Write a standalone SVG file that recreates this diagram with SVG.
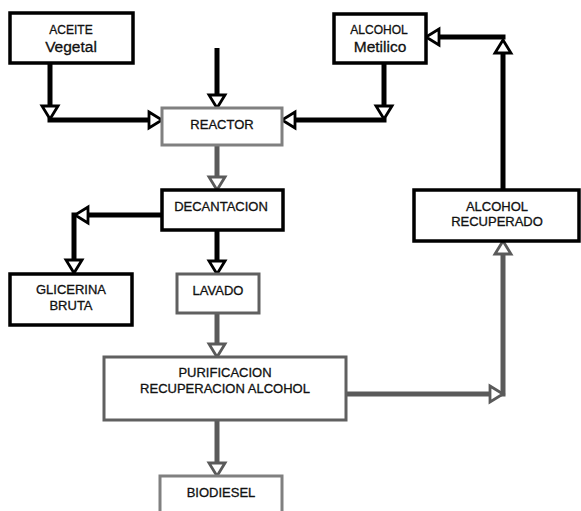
<svg xmlns="http://www.w3.org/2000/svg" width="581" height="511" viewBox="0 0 581 511">
<style>
text{font-family:"Liberation Sans",Arial,sans-serif;font-size:13px;fill:#111;stroke:#111;stroke-width:0.3;text-anchor:middle}
.sm{font-size:12px}
.big{font-size:15.5px}
.bk{fill:#fff;stroke:#000;stroke-width:3.5}
.gr{fill:#fff;stroke:#808080;stroke-width:3}
.dg{fill:#fff;stroke:#606060;stroke-width:3}
.cb{fill:none;stroke:#000;stroke-width:5}
.cg{fill:none;stroke:#5a5a5a;stroke-width:5}
</style>
<defs>
<marker id="ab" markerUnits="userSpaceOnUse" markerWidth="20" markerHeight="20" refX="1" refY="10" orient="auto" overflow="visible">
<path d="M1,2 L14,10 L1,18 Z" fill="#fff" stroke="#000" stroke-width="2.8" stroke-linejoin="miter"/>
</marker>
<marker id="ag" markerUnits="userSpaceOnUse" markerWidth="20" markerHeight="20" refX="1" refY="10" orient="auto" overflow="visible">
<path d="M1,2 L14,10 L1,18 Z" fill="#fff" stroke="#5a5a5a" stroke-width="2.8" stroke-linejoin="miter"/>
</marker>
</defs>
<rect width="581" height="511" fill="#fff"/>
<g id="connectors">
<line class="cb" x1="217" y1="48" x2="217" y2="95" marker-end="url(#ab)"/>
<line class="cb" x1="50" y1="63" x2="50" y2="106" marker-end="url(#ab)"/>
<line class="cb" x1="47.5" y1="120" x2="149" y2="120" marker-end="url(#ab)"/>
<line class="cb" x1="384" y1="63" x2="384" y2="106" marker-end="url(#ab)"/>
<line class="cb" x1="386.5" y1="120" x2="295" y2="120" marker-end="url(#ab)"/>
<line class="cb" x1="503" y1="190" x2="503" y2="53" marker-end="url(#ab)"/>
<line class="cb" x1="505.5" y1="37" x2="439" y2="37" marker-end="url(#ab)"/>
<line class="cg" x1="217" y1="145" x2="217" y2="177" marker-end="url(#ag)"/>
<line class="cb" x1="162" y1="215" x2="88" y2="215" marker-end="url(#ab)"/>
<line class="cb" x1="74" y1="212.5" x2="74" y2="260" marker-end="url(#ab)"/>
<line class="cb" x1="217" y1="230" x2="217" y2="261" marker-end="url(#ab)"/>
<line class="cg" x1="217" y1="313" x2="217" y2="344" marker-end="url(#ag)"/>
<line class="cg" x1="217" y1="420" x2="217" y2="463" marker-end="url(#ag)"/>
<line class="cg" x1="343" y1="394" x2="490" y2="394" marker-end="url(#ag)"/>
<line class="cg" x1="503" y1="396.5" x2="503" y2="254" marker-end="url(#ag)"/>
</g>
<g id="aceite"><rect class="bk" x="10" y="13" width="123" height="50"/><text class="sm" x="71" y="34">ACEITE</text><text class="big" x="71" y="52">Vegetal</text></g>
<g id="alcohol-metilico"><rect class="bk" x="334" y="14" width="92" height="49"/><text class="sm" x="379" y="34">ALCOHOL</text><text class="big" x="380" y="52">Metilico</text></g>
<g id="reactor"><rect class="gr" x="162" y="108" width="120" height="37"/><text x="222" y="129">REACTOR</text></g>
<g id="decantacion"><rect class="bk" x="162" y="190" width="121" height="40"/><text x="221" y="211">DECANTACION</text></g>
<g id="glicerina"><rect class="bk" x="10" y="274" width="122" height="51"/><text x="71" y="294">GLICERINA</text><text x="71" y="310">BRUTA</text></g>
<g id="lavado"><rect class="dg" x="177" y="274" width="82" height="39"/><text x="218" y="295">LAVADO</text></g>
<g id="alcohol-recuperado"><rect class="bk" x="414" y="190" width="165" height="51"/><text x="497" y="211">ALCOHOL</text><text x="497" y="226">RECUPERADO</text></g>
<g id="purificacion"><rect class="dg" x="104" y="357" width="242" height="63"/><text x="225" y="377">PURIFICACION</text><text x="225" y="393">RECUPERACION ALCOHOL</text></g>
<g id="biodiesel"><rect class="gr" x="160" y="476" width="122" height="45"/><text x="221" y="497">BIODIESEL</text></g>
</svg>
